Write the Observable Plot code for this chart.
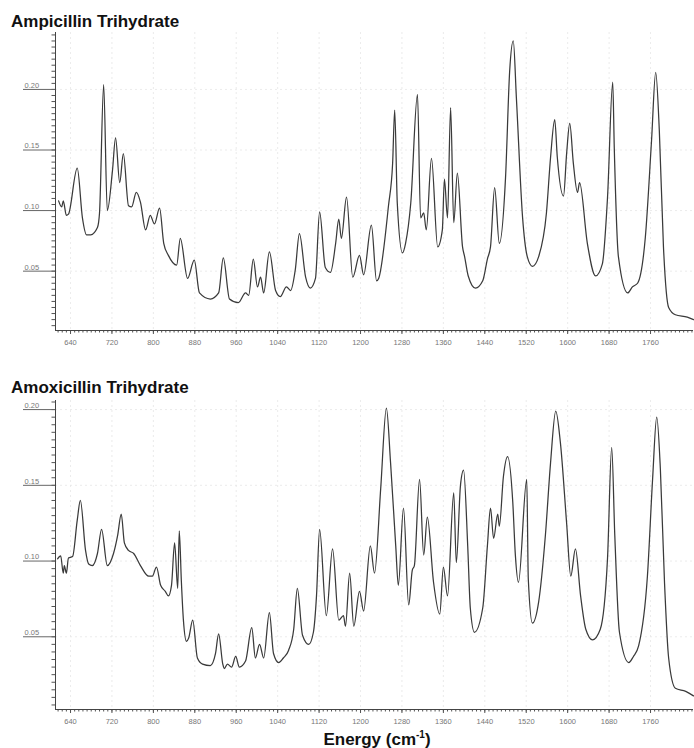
<!DOCTYPE html>
<html>
<head>
<meta charset="utf-8">
<script src="https://cdn.jsdelivr.net/npm/d3@7"></script>
<script src="https://cdn.jsdelivr.net/npm/@observablehq/plot@0.6"></script>
<style>
  html, body { margin: 0; padding: 0; background: #fff; }
  body { width: 694px; height: 748px; position: relative; overflow: hidden; font-family: "Liberation Sans", Arial, sans-serif; }
  .title { position: absolute; left: 11px; font-weight: bold; font-size: 17px; line-height: 17px; color: #111; white-space: nowrap; }
  .panel { position: absolute; left: 0; }
  #xlabel { position: absolute; left: 377px; top: 731px; transform: translateX(-50%); font-weight: bold; font-size: 17px; line-height: 17px; color: #111; white-space: nowrap; }
  #xlabel sup { font-size: 10px; line-height: 0; }
</style>
</head>
<body>
<div class="title" style="top:13px">Ampicillin Trihydrate</div>
<div class="panel" id="p1" style="top:22px"></div>
<div class="title" style="top:379px">Amoxicillin Trihydrate</div>
<div class="panel" id="p2" style="top:390px"></div>
<div id="xlabel">Energy (cm<sup>-1</sup>)</div>
<script>
// Tick labels
const xTicks = [640, 720, 800, 880, 960, 1040, 1120, 1200, 1280, 1360, 1440, 1520, 1600, 1680, 1760];
const yTicks = [0.05, 0.10, 0.15, 0.20];

// Ampicillin Trihydrate spectrum (wavenumber, intensity)
const ampX = [617, 623, 626, 632, 636, 653, 663, 671, 679, 692, 696, 704, 711, 721, 727, 735, 742, 752, 758, 767, 775, 785, 794, 802, 812, 820, 829, 845, 852, 866, 879, 889, 910, 926, 935, 947, 964, 978, 984, 993, 1001, 1007, 1013, 1024, 1036, 1045, 1057, 1065, 1074, 1082, 1094, 1103, 1113, 1121, 1132, 1142, 1152, 1158, 1163, 1173, 1185, 1198, 1206, 1221, 1231, 1235, 1254, 1262, 1266, 1271, 1281, 1287, 1297, 1310, 1316, 1322, 1327, 1337, 1349, 1358, 1362, 1368, 1374, 1380, 1387, 1397, 1401, 1408, 1422, 1436, 1445, 1451, 1459, 1468, 1480, 1488, 1495, 1501, 1513, 1522, 1532, 1544, 1559, 1567, 1575, 1580, 1592, 1598, 1604, 1611, 1619, 1623, 1638, 1654, 1667, 1677, 1687, 1690, 1698, 1716, 1725, 1735, 1750, 1762, 1770, 1777, 1785, 1795, 1808, 1831, 1843];
const ampY = [0.108, 0.103, 0.108, 0.096, 0.097, 0.135, 0.094, 0.080, 0.080, 0.086, 0.098, 0.204, 0.100, 0.133, 0.160, 0.123, 0.147, 0.104, 0.103, 0.115, 0.107, 0.084, 0.096, 0.089, 0.102, 0.073, 0.063, 0.055, 0.077, 0.044, 0.059, 0.032, 0.027, 0.032, 0.061, 0.027, 0.024, 0.032, 0.030, 0.060, 0.037, 0.045, 0.032, 0.066, 0.034, 0.029, 0.037, 0.034, 0.051, 0.081, 0.045, 0.036, 0.044, 0.099, 0.053, 0.049, 0.073, 0.093, 0.077, 0.111, 0.045, 0.063, 0.047, 0.088, 0.042, 0.044, 0.104, 0.139, 0.183, 0.106, 0.065, 0.073, 0.106, 0.196, 0.094, 0.098, 0.084, 0.143, 0.070, 0.084, 0.126, 0.094, 0.185, 0.090, 0.131, 0.070, 0.062, 0.046, 0.036, 0.042, 0.060, 0.070, 0.119, 0.073, 0.127, 0.215, 0.240, 0.193, 0.094, 0.062, 0.054, 0.062, 0.098, 0.144, 0.175, 0.144, 0.112, 0.147, 0.172, 0.139, 0.115, 0.123, 0.073, 0.046, 0.056, 0.111, 0.206, 0.152, 0.062, 0.032, 0.037, 0.040, 0.078, 0.158, 0.214, 0.166, 0.070, 0.020, 0.014, 0.012, 0.010];

// Amoxicillin Trihydrate spectrum (wavenumber, intensity)
const amoX = [615, 621, 626, 628, 632, 636, 644, 653, 659, 669, 675, 682, 692, 700, 711, 723, 731, 738, 744, 752, 762, 775, 791, 798, 806, 814, 823, 829, 835, 841, 847, 850, 854, 858, 864, 868, 876, 885, 895, 910, 920, 926, 934, 937, 943, 951, 959, 966, 978, 990, 997, 1005, 1013, 1024, 1032, 1042, 1051, 1061, 1071, 1078, 1088, 1100, 1109, 1115, 1121, 1134, 1146, 1158, 1167, 1171, 1179, 1187, 1198, 1206, 1219, 1227, 1239, 1250, 1258, 1268, 1273, 1283, 1293, 1300, 1304, 1314, 1322, 1329, 1341, 1353, 1360, 1368, 1380, 1385, 1393, 1399, 1407, 1412, 1420, 1436, 1445, 1451, 1457, 1465, 1468, 1476, 1484, 1494, 1499, 1505, 1521, 1524, 1532, 1544, 1557, 1567, 1577, 1586, 1598, 1606, 1615, 1625, 1635, 1648, 1663, 1677, 1685, 1691, 1700, 1718, 1727, 1737, 1754, 1764, 1772, 1779, 1787, 1795, 1808, 1828, 1843];
const amoY = [0.1015, 0.1035, 0.092, 0.097, 0.092, 0.102, 0.103, 0.127, 0.140, 0.107, 0.098, 0.097, 0.105, 0.121, 0.097, 0.105, 0.117, 0.131, 0.112, 0.107, 0.105, 0.097, 0.090, 0.090, 0.096, 0.084, 0.080, 0.077, 0.084, 0.112, 0.082, 0.120, 0.087, 0.061, 0.047, 0.049, 0.061, 0.036, 0.032, 0.031, 0.039, 0.052, 0.032, 0.029, 0.032, 0.030, 0.037, 0.030, 0.034, 0.056, 0.036, 0.045, 0.036, 0.066, 0.039, 0.033, 0.036, 0.041, 0.055, 0.082, 0.051, 0.045, 0.053, 0.077, 0.121, 0.064, 0.108, 0.061, 0.064, 0.057, 0.092, 0.057, 0.080, 0.067, 0.110, 0.092, 0.148, 0.201, 0.165, 0.110, 0.084, 0.135, 0.071, 0.094, 0.097, 0.154, 0.104, 0.129, 0.086, 0.065, 0.096, 0.077, 0.145, 0.099, 0.150, 0.160, 0.110, 0.069, 0.053, 0.069, 0.110, 0.135, 0.115, 0.131, 0.123, 0.156, 0.169, 0.139, 0.104, 0.086, 0.154, 0.088, 0.059, 0.073, 0.117, 0.165, 0.199, 0.178, 0.125, 0.090, 0.108, 0.077, 0.055, 0.048, 0.055, 0.102, 0.175, 0.117, 0.053, 0.033, 0.037, 0.044, 0.090, 0.154, 0.195, 0.161, 0.086, 0.036, 0.016, 0.014, 0.011];

const xDomain = [611, 1843];

function panel(xs, ys, yDomain, height) {
  const data = xs.map((x, i) => ({x, y: ys[i]}));
  const xMinor = d3.range(616, 1843, 8);
  const yMinor = d3.range(0.005, yDomain[1], 0.005).map(v => +v.toFixed(3));
  return Plot.plot({
    width: 694,
    height,
    marginLeft: 55,
    marginRight: 1,
    marginTop: 10,
    marginBottom: 22,
    x: {domain: xDomain, label: null},
    y: {domain: yDomain, label: null},
    style: {fontFamily: "'Liberation Sans', Arial, sans-serif", fontSize: "7.5px", color: "#666", background: "transparent", overflow: "visible"},
    marks: [
      Plot.gridX(xTicks, {stroke: "#e6e6e6", strokeOpacity: 1, strokeDasharray: "2,3", strokeWidth: 0.8}),
      Plot.gridY(yTicks, {stroke: "#e6e6e6", strokeOpacity: 1, strokeDasharray: "2,3", strokeWidth: 0.8}),
      Plot.axisX({ticks: xMinor, tickSize: 2.5, tickFormat: () => "", stroke: "#555", label: null}),
      Plot.axisX({ticks: xTicks, tickSize: 4, tickPadding: 5, tickFormat: d => String(d), stroke: "#555", fill: "#777", label: null}),
      Plot.axisY({ticks: yMinor, tickSize: 3.5, tickFormat: () => "", stroke: "#555", label: null}),
      Plot.axisY({ticks: yTicks, tickSize: 32, tickFormat: () => "", stroke: "#666", label: null}),
      Plot.text(yTicks, {y: d => d, frameAnchor: "left", dx: -31, dy: -4, textAnchor: "start", text: d => d.toFixed(2), fill: "#777", fontSize: 7.5}),
      Plot.ruleX([xDomain[0]], {stroke: "#444", strokeWidth: 1}),
      Plot.ruleY([yDomain[0]], {stroke: "#444", strokeWidth: 1}),
      Plot.line(data, {x: "x", y: "y", stroke: "#3a3a3a", strokeWidth: 1.25, curve: "monotone-x"})
    ]
  });
}

document.getElementById("p1").append(panel(ampX, ampY, [0.001, 0.247], 330));
document.getElementById("p2").append(panel(amoX, amoY, [0.002, 0.206], 341));
</script>
</body>
</html>
